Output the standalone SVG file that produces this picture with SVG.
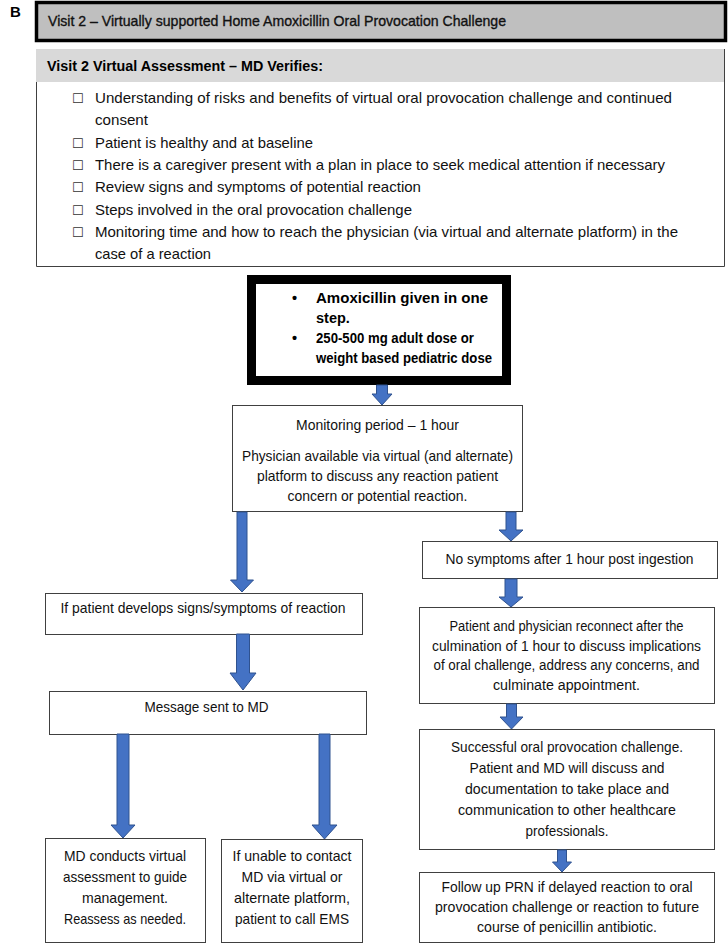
<svg xmlns="http://www.w3.org/2000/svg" width="728" height="945" viewBox="0 0 728 945">
<style>
.t{font-family:"Liberation Sans",Arial,sans-serif;font-size:15px;fill:#111}
.s{font-size:14px}
.b{font-family:"Liberation Sans",Arial,sans-serif;font-size:14.5px;font-weight:bold;fill:#000}
.c{text-anchor:middle}
.box{fill:#fff;stroke:#404040;stroke-width:1}
.arr{fill:#4472c4;stroke:#2f528f;stroke-width:1}
.chk{font-family:"DejaVu Sans",sans-serif;font-size:13px;fill:#333}
</style>
<rect width="728" height="945" fill="#fff"/>
<text x="10" y="17" style="font-family:'Liberation Sans',Arial,sans-serif;font-size:15px;font-weight:bold">B</text>

<g id="title">
<rect x="36.5" y="2.5" width="689" height="38" fill="#bfbfbf" stroke="#000" stroke-width="3.5"/>
<text class="t" x="48" y="26" textLength="458" lengthAdjust="spacingAndGlyphs" stroke="#111" stroke-width="0.35">Visit 2 – Virtually supported Home Amoxicillin Oral Provocation Challenge</text>
</g>

<g id="assessment">
<rect x="36" y="49" width="688" height="33" fill="#d9d9d9"/>
<path d="M36.5,82 V266.5 H724.5 V49" fill="none" stroke="#404040" stroke-width="1"/>
<text class="b" x="47" y="71" textLength="276" lengthAdjust="spacingAndGlyphs">Visit 2 Virtual Assessment – MD Verifies:</text>
<g class="chk">
<text x="72" y="103">☐</text>
<text x="72" y="147.6">☐</text>
<text x="72" y="169.9">☐</text>
<text x="72" y="192.2">☐</text>
<text x="72" y="214.5">☐</text>
<text x="72" y="236.8">☐</text>
</g>
<text class="t" x="95" y="103" textLength="577" lengthAdjust="spacingAndGlyphs">Understanding of risks and benefits of virtual oral provocation challenge and continued</text>
<text class="t" x="95" y="125.3" textLength="53" lengthAdjust="spacingAndGlyphs">consent</text>
<text class="t" x="95" y="147.6" textLength="218" lengthAdjust="spacingAndGlyphs">Patient is healthy and at baseline</text>
<text class="t" x="95" y="169.9" textLength="570" lengthAdjust="spacingAndGlyphs">There is a caregiver present with a plan in place to seek medical attention if necessary</text>
<text class="t" x="95" y="192.2" textLength="326" lengthAdjust="spacingAndGlyphs">Review signs and symptoms of potential reaction</text>
<text class="t" x="95" y="214.5" textLength="317" lengthAdjust="spacingAndGlyphs">Steps involved in the oral provocation challenge</text>
<text class="t" x="95" y="236.8" textLength="583" lengthAdjust="spacingAndGlyphs">Monitoring time and how to reach the physician (via virtual and alternate platform) in the</text>
<text class="t" x="95" y="259.1" textLength="116" lengthAdjust="spacingAndGlyphs">case of a reaction</text>
</g>

<g id="amoxicillin">
<rect x="251.5" y="279.5" width="255" height="101" fill="#fff" stroke="#000" stroke-width="9"/>
<text class="b" x="292" y="303">•</text>
<text class="b" x="316" y="303" textLength="172" lengthAdjust="spacingAndGlyphs">Amoxicillin given in one</text>
<text class="b" x="316" y="323">step.</text>
<text class="b" x="292" y="343">•</text>
<text class="b" x="316" y="343" textLength="158" lengthAdjust="spacingAndGlyphs">250-500 mg adult dose or</text>
<text class="b" x="316" y="363" textLength="176" lengthAdjust="spacingAndGlyphs">weight based pediatric dose</text>
</g>

<g id="monitoring">
<rect class="box" x="232.5" y="405.5" width="290" height="106"/>
<text class="t c" x="377.5" y="430" textLength="163" lengthAdjust="spacingAndGlyphs">Monitoring period – 1 hour</text>
<text class="t c" x="377.5" y="461" textLength="271" lengthAdjust="spacingAndGlyphs">Physician available via virtual (and alternate)</text>
<text class="t c" x="377.5" y="481" textLength="241" lengthAdjust="spacingAndGlyphs">platform to discuss any reaction patient</text>
<text class="t c" x="377.5" y="501" textLength="180" lengthAdjust="spacingAndGlyphs">concern or potential reaction.</text>
</g>

<g id="signs">
<rect class="box" x="45.5" y="593.5" width="317" height="41"/>
<text class="t c" x="203" y="613" textLength="285" lengthAdjust="spacingAndGlyphs">If patient develops signs/symptoms of reaction</text>
</g>

<g id="message">
<rect class="box" x="49.5" y="691.5" width="317" height="43"/>
<text class="t c" x="206.5" y="712" textLength="124" lengthAdjust="spacingAndGlyphs">Message sent to MD</text>
</g>

<g id="md-assess">
<rect class="box" x="45.5" y="838.5" width="160" height="104"/>
<text class="t c" x="125" y="861" textLength="122" lengthAdjust="spacingAndGlyphs">MD conducts virtual</text>
<text class="t c" x="125" y="882" textLength="124" lengthAdjust="spacingAndGlyphs">assessment to guide</text>
<text class="t c" x="125" y="903" textLength="86" lengthAdjust="spacingAndGlyphs">management.</text>
<text class="t c" x="125" y="924" textLength="122" lengthAdjust="spacingAndGlyphs">Reassess as needed.</text>
</g>

<g id="ems">
<rect class="box" x="221.5" y="839.5" width="141" height="103"/>
<text class="t c" x="292" y="861" textLength="119" lengthAdjust="spacingAndGlyphs">If unable to contact</text>
<text class="t c" x="292" y="882" textLength="101" lengthAdjust="spacingAndGlyphs">MD via virtual or</text>
<text class="t c" x="292" y="903" textLength="116" lengthAdjust="spacingAndGlyphs">alternate platform,</text>
<text class="t c" x="292" y="924" textLength="114" lengthAdjust="spacingAndGlyphs">patient to call EMS</text>
</g>

<g id="no-symptoms">
<rect class="box" x="422.5" y="541.5" width="295" height="37"/>
<text class="t c" x="569.5" y="564" textLength="248" lengthAdjust="spacingAndGlyphs">No symptoms after 1 hour post ingestion</text>
</g>

<g id="reconnect">
<rect class="box" x="419.5" y="607.5" width="295" height="96"/>
<text class="t s c" x="566.5" y="631" textLength="234" lengthAdjust="spacingAndGlyphs">Patient and physician reconnect after the</text>
<text class="t s c" x="566.5" y="650.5" textLength="269" lengthAdjust="spacingAndGlyphs">culmination of 1 hour to discuss implications</text>
<text class="t s c" x="566.5" y="670" textLength="266" lengthAdjust="spacingAndGlyphs">of oral challenge, address any concerns, and</text>
<text class="t s c" x="566.5" y="689.5" textLength="147" lengthAdjust="spacingAndGlyphs">culminate appointment.</text>
</g>

<g id="successful">
<rect class="box" x="419.5" y="729.5" width="295" height="120"/>
<text class="t c" x="567" y="752" textLength="232" lengthAdjust="spacingAndGlyphs">Successful oral provocation challenge.</text>
<text class="t c" x="567" y="773" textLength="195" lengthAdjust="spacingAndGlyphs">Patient and MD will discuss and</text>
<text class="t c" x="567" y="794" textLength="204" lengthAdjust="spacingAndGlyphs">documentation to take place and</text>
<text class="t c" x="567" y="815" textLength="218" lengthAdjust="spacingAndGlyphs">communication to other healthcare</text>
<text class="t c" x="567" y="836" textLength="83" lengthAdjust="spacingAndGlyphs">professionals.</text>
</g>

<g id="follow-up">
<rect class="box" x="419.5" y="872.5" width="295" height="70"/>
<text class="t s c" x="567" y="892" textLength="251" lengthAdjust="spacingAndGlyphs">Follow up PRN if delayed reaction to oral</text>
<text class="t s c" x="567" y="912" textLength="264" lengthAdjust="spacingAndGlyphs">provocation challenge or reaction to future</text>
<text class="t s c" x="567" y="932" textLength="180" lengthAdjust="spacingAndGlyphs">course of penicillin antibiotic.</text>
</g>

<g id="connectors">
<path class="arr" d="M376.5,385 H387.5 V394 H392 L382,405 L372,394 H376.5 Z"/>
<path class="arr" d="M237,512 H247 V580 H253.5 L242,592 L230.5,580 H237 Z"/>
<path class="arr" d="M236.5,634 H249.5 V673 H256 L243,690 L230,673 H236.5 Z"/>
<path class="arr" d="M506,512 H516 V530 H523 L511,541 L499,530 H506 Z"/>
<path class="arr" d="M505,579 H517 V597 H523 L511,607 L499,597 H505 Z"/>
<path class="arr" d="M506.5,704 H516.5 V717 H523 L511.5,729 L500,717 H506.5 Z"/>
<path class="arr" d="M557.5,850 H566.5 V862 H571.5 L562,872 L552.5,862 H557.5 Z"/>
<path class="arr" d="M117,734 H129 V825 H135 L123,838 L111,825 H117 Z"/>
<path class="arr" d="M319,734 H330 V825 H337 L324.5,839 L312,825 H319 Z"/>
</g>
</svg>
